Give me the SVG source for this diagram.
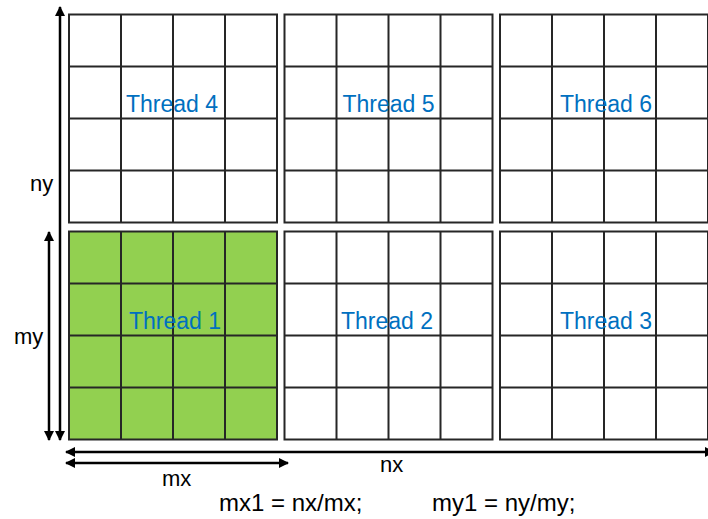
<svg xmlns="http://www.w3.org/2000/svg" width="708" height="519" viewBox="0 0 708 519">
  <defs>
    <marker id="head" viewBox="0 0 10 10" refX="9" refY="5" markerWidth="4" markerHeight="4" orient="auto-start-reverse" markerUnits="strokeWidth">
      <path d="M0,0 L10,5 L0,10 Z" fill="#000"/>
    </marker>
    <!-- 4x4 block of 52px cells; the frame takes its fill from the <use> -->
    <g id="grid">
      <rect x="0" y="0" width="208" height="208" stroke="#262626" stroke-width="2"/>
      <path d="M52,0V208M104,0V208M156,0V208M0,52H208M0,104H208M0,156H208" stroke="#262626" stroke-width="2" fill="none"/>
    </g>
  </defs>
  <style>
    .blank > use { fill: #ffffff; }
    .busy > use { fill: #92D050; }
    .label { font-family: "Liberation Sans", Arial, sans-serif; font-size: 23px; fill: #0070C0; text-anchor: middle; }
    .axis { stroke: #000; stroke-width: 2.5; fill: none; marker-start: url(#head); marker-end: url(#head); }
    .dim { font-family: "Liberation Sans", Arial, sans-serif; font-size: 22px; fill: #000; }
    .formula { font-family: "Liberation Sans", Arial, sans-serif; font-size: 24px; fill: #000; }
  </style>
  <rect width="708" height="519" fill="#ffffff"/>

  <g id="thread4" class="blank">
    <use href="#grid" x="69" y="14.5"/>
    <text class="label" x="172" y="112">Thread 4</text>
  </g>
  <g id="thread5" class="blank">
    <use href="#grid" x="284.5" y="14.5"/>
    <text class="label" x="388.5" y="112">Thread 5</text>
  </g>
  <g id="thread6" class="blank">
    <use href="#grid" x="500" y="14.5"/>
    <text class="label" x="606" y="112">Thread 6</text>
  </g>
  <g id="thread1" class="busy">
    <use href="#grid" x="69" y="231.5"/>
    <text class="label" x="175" y="329">Thread 1</text>
  </g>
  <g id="thread2" class="blank">
    <use href="#grid" x="284.5" y="231.5"/>
    <text class="label" x="387" y="329">Thread 2</text>
  </g>
  <g id="thread3" class="blank">
    <use href="#grid" x="500" y="231.5"/>
    <text class="label" x="606" y="329">Thread 3</text>
  </g>

  <g id="connectors">
    <line class="axis" x1="60" y1="7" x2="60" y2="440"/>
    <line class="axis" x1="49" y1="232" x2="49" y2="440"/>
    <line class="axis" x1="66" y1="452" x2="714" y2="452"/>
    <line class="axis" x1="66" y1="463" x2="288" y2="463"/>
  </g>

  <g id="dimensions">
    <text class="dim" x="30" y="191">ny</text>
    <text class="dim" x="14" y="344">my</text>
    <text class="dim" x="380" y="472">nx</text>
    <text class="dim" x="162" y="486">mx</text>
    <text class="formula" x="219" y="511">mx1 = nx/mx;</text>
    <text class="formula" x="432" y="511">my1 = ny/my;</text>
  </g>
</svg>
